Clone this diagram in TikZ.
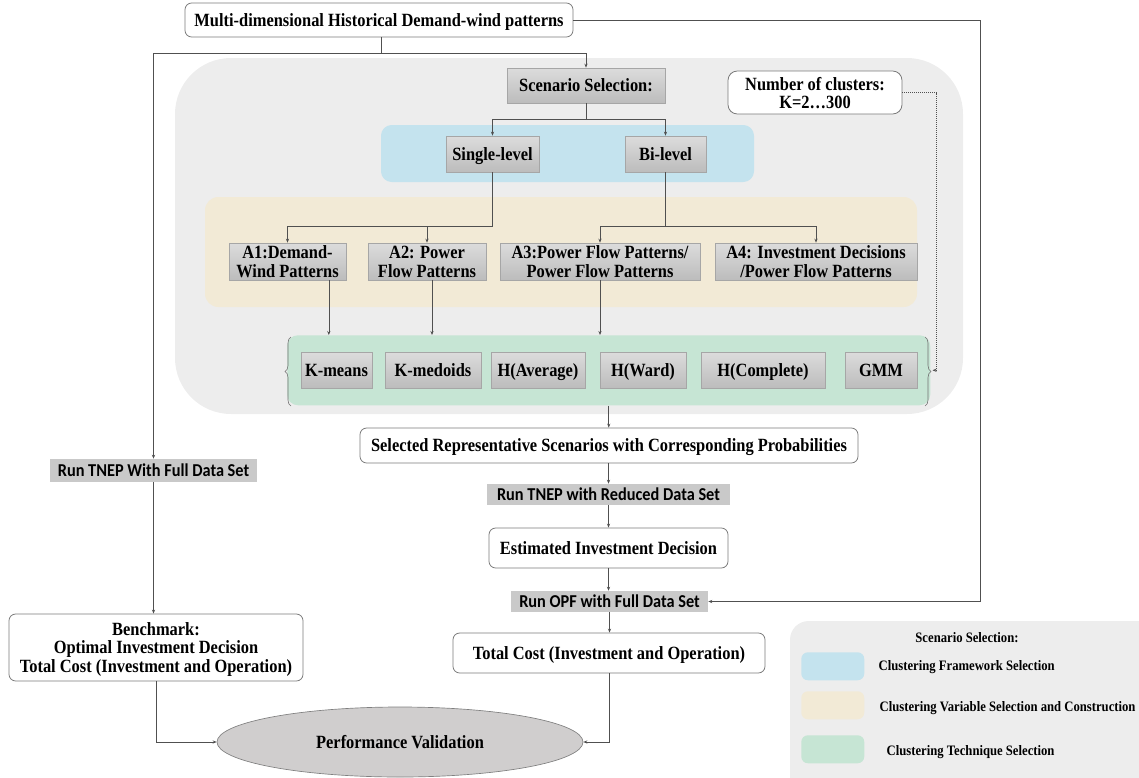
\documentclass[tikz,border=0pt]{standalone}
\usepackage{fontspec}
\setmainfont{Liberation Serif}[FakeStretch=0.88]
\newfontfamily\runfont{Carlito}[FakeStretch=0.9]
\usetikzlibrary{arrows.meta,shapes.geometric,decorations.pathreplacing,calc}

\definecolor{panelgray}{HTML}{EDEDED}
\definecolor{fwblue}{HTML}{C4E3EE}
\definecolor{varbeige}{HTML}{F2EAD6}
\definecolor{techgreen}{HTML}{C6E5D4}
\definecolor{boxtop}{HTML}{DCDCDC}
\definecolor{boxbot}{HTML}{BCBCBC}
\definecolor{boxedge}{HTML}{A6A6A6}
\definecolor{runfill}{HTML}{C9C9C9}
\definecolor{ellfill}{HTML}{D0CECE}
\definecolor{linegray}{HTML}{505050}
\definecolor{roundedge}{HTML}{7A7A7A}

\begin{document}
\begin{tikzpicture}[x=0.75pt,y=-0.75pt,
  font=\bfseries\fontsize{14}{14.5}\selectfont,
  every node/.append style={text depth=0pt},
  sz/.style 2 args={minimum width=#1*0.75pt, minimum height=#2*0.75pt, inner sep=1pt},
  graybox/.style={draw=boxedge, line width=0.5pt, top color=boxtop, bottom color=boxbot, align=center},
  whitebox/.style={draw=roundedge, line width=0.6pt, fill=white, rounded corners=5pt, align=center},
  runbox/.style={fill=runfill, font=\runfont\bfseries\fontsize{13.6}{15}\selectfont},
  panel/.style={draw=none, rounded corners=#1},
  conn/.style={draw=linegray, line width=0.5pt},
  arr/.style={conn, -{Stealth[length=3pt,width=2.4pt]}},
  legtext/.style={anchor=west, font=\bfseries\fontsize{10.8}{12}\selectfont}
]
\useasboundingbox (0,0) rectangle (1139,778);

% background panels
\fill[panelgray, rounded corners=42pt] (175,58) rectangle (963,414);
\fill[fwblue, rounded corners=8pt] (381,125) rectangle (754,182);
\fill[varbeige, rounded corners=10pt] (205,197) rectangle (917,307);
\node[panel=8pt, fill=techgreen, sz={643}{70}, anchor=north west] (green) at (287,335) {};

% input data
\node[whitebox, sz={388}{34}] (top) at (379,20) {Multi-dimensional Historical Demand-wind patterns};

% scenario selection hierarchy
\node[graybox, sz={158}{35}] (scen) at (586,85.5) {Scenario Selection:};
\node[whitebox, sz={174}{43}, rounded corners=7pt, font=\bfseries\fontsize{14}{13.5}\selectfont] (nclus) at (815,92.5) {Number of clusters:\\K=2\ldots300};
\node[graybox, sz={93}{36}] (single) at (492.5,154) {Single-level};
\node[graybox, sz={81}{36}] (bi) at (665.5,154) {Bi-level};

\node[graybox, sz={117}{37}] (A1) at (287.5,261.5) {A1:Demand-\\Wind Patterns};
\node[graybox, sz={118}{37}] (A2) at (427,261.5) {A2: Power\\Flow Patterns};
\node[graybox, sz={200}{37}] (A3) at (600,261.5) {A3:Power Flow Patterns/\\Power Flow Patterns};
\node[graybox, sz={202}{37}] (A4) at (816,261.5) {A4: Investment Decisions\\/Power Flow Patterns};

% clustering techniques
\node[graybox, sz={71}{36}] (km) at (336.5,370) {K-means};
\node[graybox, sz={96}{36}] (kmed) at (433,370) {K-medoids};
\node[graybox, sz={94}{36}] (havg) at (538,370) {H(Average)};
\node[graybox, sz={86}{36}] (hward) at (643,370) {H(Ward)};
\node[graybox, sz={124}{36}] (hcomp) at (763,370) {H(Complete)};
\node[graybox, sz={72}{36}] (gmm) at (881,370) {GMM};

% braces around the technique set
\draw[gray!90!black, line width=0.45pt, decorate, decoration={brace, amplitude=4.5pt}] (291,406) -- (291,337);
\draw[gray!90!black, line width=0.45pt, decorate, decoration={brace, amplitude=4.5pt}] (925,337) -- (925,406);

% reduced-data workflow
\node[whitebox, sz={498}{35}] (sel) at (609,445.5) {Selected Representative Scenarios with Corresponding Probabilities};
\node[runbox, sz={243}{21}] (runred) at (608.5,494.5) {Run TNEP with Reduced Data Set};
\node[whitebox, sz={239}{40}] (est) at (608.5,548) {Estimated Investment Decision};
\node[runbox, sz={197}{21}] (runopf) at (609.5,601.5) {Run OPF with Full Data Set};
\node[whitebox, sz={312}{40}] (total) at (609,653) {Total Cost (Investment and Operation)};

% full-data benchmark
\node[runbox, sz={207}{23}] (runfull) at (153.5,470.5) {Run TNEP With Full Data Set};
\node[whitebox, sz={294}{67}, font=\bfseries\fontsize{14}{14}\selectfont] (bench) at (156,647.5) {Benchmark:\\Optimal Investment Decision\\Total Cost (Investment and Operation)};

\node[ellipse, draw=gray, line width=0.5pt, fill=ellfill, minimum width=366*0.75pt, minimum height=70*0.75pt, inner sep=0pt] (ell) at (400,742) {Performance Validation};

% connectors
\coordinate (j1) at (381,53);
\coordinate (s1) at (586,119);
\coordinate (rt) at (980,20);
\draw[conn] (j1 |- top.south) -- (j1);
\draw[arr] (j1) -| (scen.north);
\draw[arr] (j1) -| (runfull.north);
\draw[arr] (top.east) -- (rt) |- (runopf.east);

\draw[conn] (scen) -- (s1);
\draw[arr] (s1) -| (single.north);
\draw[arr] (s1) -| (bi.north);

\draw[arr] (single.south) -- ++(0,54) -| (A1.north);
\draw[arr] (single.south) -- ++(0,54) -| (A2.north);
\draw[arr] (bi.south) -- ++(0,54) -| (A3.north);
\draw[arr] (bi.south) -- ++(0,54) -| (A4.north);

\draw[arr] ([xshift=31pt]A1.south) -- ([xshift=31pt]A1.south |- green.north);
\draw[arr] ([xshift=3.75pt]A2.south) -- ([xshift=3.75pt]A2.south |- green.north);
\draw[arr] (A3.south) -- (A3.south |- green.north);

\draw[arr, densely dotted, line width=0.4pt] (nclus.east) -| ([xshift=4.5pt]green.east) -- ([xshift=1.5pt]green.east);

\draw[arr] (green.south) -- (green.south |- sel.north);
\draw[arr] (sel.south -| runred.north) -- (runred.north);
\draw[arr] (runred.south) -- (runred.south |- est.north);
\draw[arr] (est.south) -- (est.south |- runopf.north);
\draw[arr] (runopf.south) -- (runopf.south |- total.north);

\draw[arr] (runfull.south) -- (runfull.south |- bench.north);
\draw[arr] (bench.south) |- (ell.west);
\draw[arr] (total.south) |- (ell.east);

% legend
\fill[panelgray, rounded corners=14pt] (790,621) rectangle (1160,800);
\node[font=\bfseries\fontsize{10.8}{12}\selectfont] (legtitle) at (967,637) {Scenario Selection:};
\node[panel=5pt, fill=fwblue, sz={63}{28}, anchor=north west] (lgblue) at (801,652) {};
\node[panel=5pt, fill=varbeige, sz={63}{28}, anchor=north west] (lgbeige) at (801,691) {};
\node[panel=5pt, fill=techgreen, sz={63}{28}, anchor=north west] (lggreen) at (801,735) {};
\node[legtext] (lt1) at (874,665) {Clustering Framework Selection};
\node[legtext] (lt2) at (875,706) {Clustering Variable Selection and Construction};
\node[legtext] (lt3) at (882,750) {Clustering Technique Selection};
\end{tikzpicture}
\end{document}
